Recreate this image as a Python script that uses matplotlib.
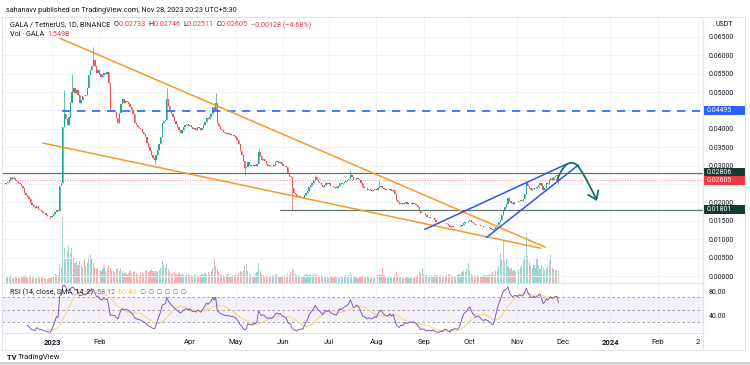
import numpy as np
import pandas as pd
import matplotlib
matplotlib.use('Agg')
import matplotlib.pyplot as plt
from matplotlib.path import Path
from matplotlib.patches import FancyArrowPatch, Rectangle
from matplotlib.transforms import blended_transform_factory
from matplotlib.ticker import FuncFormatter

W, H = 750, 365
plt.rcParams['font.family'] = ['Roboto', 'DejaVu Sans']

# --- data: GALA/USDT daily ---
first_day = '2022-12-02'
# closes in units of 0.0001 USDT
closes_e4 = [
    253, 256, 262, 268, 264, 266, 260, 257, 254, 250,
    246, 238, 226, 220, 216, 210, 198, 192, 188, 186,
    190, 182, 180, 178, 172, 170, 166, 163, 162, 160,
    164, 168, 174, 180, 178, 246, 252, 405, 440, 428,
    410, 432, 470, 500, 512, 498, 505, 492, 470, 478,
    490, 488, 492, 510, 545, 560, 572, 587, 570, 552,
    560, 548, 540, 546, 552, 548, 555, 525, 450, 452,
    448, 446, 430, 416, 442, 468, 480, 470, 476, 473,
    468, 460, 452, 440, 416, 410, 405, 402, 400, 392,
    385, 378, 362, 350, 340, 330, 322, 315, 328, 342,
    360, 378, 416, 420, 424, 480, 462, 450, 440, 432,
    420, 412, 405, 398, 390, 398, 405, 410, 412, 408,
    410, 405, 400, 402, 398, 405, 402, 397, 403, 410,
    418, 430, 426, 432, 440, 460, 452, 470, 416, 408,
    400, 397, 392, 390, 386, 388, 385, 384, 383, 380,
    376, 370, 358, 340, 330, 312, 293, 296, 310, 302,
    300, 298, 302, 300, 305, 337, 325, 315, 318, 312,
    305, 300, 302, 298, 300, 303, 310, 312, 308, 310,
    305, 300, 298, 296, 280, 272, 268, 240, 226, 222,
    215, 218, 214, 216, 212, 220, 226, 232, 242, 248,
    253, 260, 270, 262, 256, 253, 248, 242, 248, 253,
    250, 253, 246, 244, 242, 240, 240, 246, 253, 250,
    253, 256, 258, 260, 264, 274, 268, 260, 262, 266,
    264, 260, 252, 242, 240, 238, 234, 236, 234, 232,
    234, 236, 233, 238, 242, 244, 240, 236, 234, 233,
    234, 236, 232, 234, 224, 207, 200, 195, 198, 196,
    198, 200, 197, 198, 199, 197, 198, 196, 194, 188,
    180, 171, 172, 170, 165, 160, 161, 158, 157, 158,
    152, 147, 146, 144, 145, 143, 144, 145, 142, 138,
    133, 135, 133, 134, 133, 132, 133, 136, 140, 144,
    146, 147, 150, 152, 148, 144, 142, 139, 140, 139,
    137, 135, 133, 134, 133, 132, 130, 128, 125, 127,
    132, 139, 146, 152, 165, 180, 188, 195, 212, 203,
    198, 195, 200, 202, 200, 204, 207, 205, 210, 222,
    253, 245, 240, 234, 236, 240, 238, 242, 248, 253,
    245, 234, 240, 253, 250, 260, 266, 262, 268, 272,
    273.3, 260.5,
]
# volume in units of 0.1B GALA
volume_e8 = [
    6, 8, 9, 10, 7, 6, 8, 7, 6, 7,
    8, 9, 10, 8, 7, 9, 10, 8, 7, 6,
    7, 8, 6, 7, 8, 7, 6, 5, 6, 7,
    8, 9, 12, 10, 11, 25, 20, 86, 45, 32,
    41, 48, 39, 45, 32, 26, 28, 23, 28, 23,
    19, 32, 22, 26, 34, 37, 31, 26, 19, 18,
    20, 17, 15, 18, 22, 16, 19, 23, 20, 17,
    15, 14, 18, 20, 16, 19, 15, 13, 14, 12,
    13, 15, 12, 14, 16, 13, 12, 11, 13, 14,
    12, 15, 17, 14, 16, 18, 15, 13, 16, 14,
    17, 20, 28, 23, 19, 25, 18, 15, 13, 12,
    14, 12, 11, 13, 10, 12, 11, 9, 10, 12,
    11, 10, 9, 12, 10, 11, 9, 10, 12, 11,
    13, 12, 14, 11, 15, 20, 31, 22, 18, 14,
    12, 10, 11, 9, 10, 12, 9, 8, 10, 11,
    12, 11, 13, 15, 14, 17, 22, 25, 15, 12,
    10, 11, 9, 12, 14, 26, 16, 12, 10, 9,
    8, 10, 9, 8, 11, 9, 10, 12, 9, 8,
    9, 8, 10, 9, 12, 11, 14, 19, 15, 12,
    10, 9, 11, 8, 9, 10, 12, 11, 10, 12,
    11, 13, 12, 10, 9, 8, 10, 9, 8, 9,
    8, 7, 9, 8, 7, 8, 9, 7, 8, 9,
    8, 9, 10, 9, 11, 14, 10, 8, 9, 8,
    7, 8, 9, 10, 8, 7, 9, 8, 7, 8,
    7, 8, 9, 10, 12, 11, 19, 10, 8, 7,
    8, 7, 9, 8, 12, 14, 11, 9, 8, 7,
    6, 7, 8, 7, 6, 8, 7, 9, 8, 12,
    14, 13, 19, 12, 10, 11, 9, 8, 10, 9,
    10, 11, 9, 8, 10, 9, 8, 9, 10, 12,
    11, 10, 9, 8, 9, 10, 12, 11, 14, 16,
    14, 18, 26, 16, 12, 10, 9, 11, 10, 9,
    8, 9, 10, 11, 9, 10, 12, 13, 14, 12,
    15, 17, 22, 39, 30, 54, 28, 32, 22, 18,
    19, 15, 17, 14, 20, 18, 21, 24, 30, 35,
    65, 35, 27, 22, 19, 24, 20, 31, 22, 18,
    24, 19, 17, 20, 22, 29, 37, 20, 18, 16,
    17, 15.5,
]
first_open = 0.0250
# notable wicks (date, price)
wick_highs = [('2022-12-07', 0.0272), ('2023-01-09', 0.0505), ('2023-01-14', 0.0550),
              ('2023-01-28', 0.0622), ('2023-03-17', 0.0510), ('2023-04-18', 0.0497),
              ('2023-05-16', 0.0345), ('2023-06-22', 0.0275), ('2023-07-15', 0.0288),
              ('2023-08-03', 0.0260), ('2023-11-07', 0.0256), ('2023-11-28', 0.02746)]
wick_lows = [('2022-12-31', 0.0155), ('2023-03-09', 0.0305), ('2023-05-07', 0.0274),
             ('2023-06-07', 0.0180), ('2023-11-28', 0.02511)]

# drawings: (day offset from 2023-01-01, price)
orange_upper = [(5.2, 0.0646), (322.2, 0.00788)]
orange_lower = [(-5.9, 0.03614), (319.0, 0.00761)]
blue_upper = [(243.8, 0.01269), (336.4, 0.03043)]
blue_lower = [(284.1, 0.01052), (344.0, 0.03016)]
target_days = [6.5, 423.5]
target_level = 0.04495
resistance_level = 0.02806
support_start = 149.0
support_level = 0.01801
last_price = 0.02605
arrow_pts = [(330.1, 0.02609), (334.0, 0.03016), (338.6, 0.03207), (343.8, 0.02989),
             (348.4, 0.02717), (353.0, 0.02337), (356.2, 0.02038)]

month_ticks = ['2023-01-01', '2023-02-01', '2023-04-01', '2023-05-01', '2023-06-01',
               '2023-07-01', '2023-08-01', '2023-09-01', '2023-10-01', '2023-11-01',
               '2023-12-01', '2024-01-01', '2024-02-01', '2024-02-27']
month_labels = ['2023', 'Feb', 'Apr', 'May', 'Jun', 'Jul', 'Aug', 'Sep', 'Oct', 'Nov',
                'Dec', '2024', 'Feb', '2']
price_ticks = np.arange(0, 0.0651, 0.005)
hidden_ticks = [0.045, 0.025]  # covered by price labels

# --- derived ---
base = pd.Timestamp('2023-01-01')
def day_of(s):
    return (pd.Timestamp(s) - base).days

closes = np.array(closes_e4, dtype=float) / 1e4
volume = np.array(volume_e8, dtype=float)
days = np.arange(len(closes)) + day_of(first_day)
opens = np.r_[first_open, closes[:-1]]
highs = np.maximum(opens, closes)
lows = np.minimum(opens, closes)
for s, p in wick_highs:
    i = day_of(s) - days[0]
    highs[i] = max(highs[i], p)
for s, p in wick_lows:
    i = day_of(s) - days[0]
    lows[i] = min(lows[i], p)

n = 14
diff = np.diff(closes)
gain = np.clip(diff, 0, None)
loss = np.clip(-diff, 0, None)
rsi = np.full(len(closes), np.nan)
ag, al = gain[:n].mean(), loss[:n].mean()
rsi[n] = 100 - 100 / (1 + ag / al)
for i in range(n + 1, len(closes)):
    ag = (ag * (n - 1) + gain[i - 1]) / n
    al = (al * (n - 1) + loss[i - 1]) / n
    rsi[i] = 100 - 100 / (1 + ag / al) if al > 0 else 100
rsi_sma = pd.Series(rsi).rolling(14).mean().values

UP, DOWN = '#26a69a', '#ef5350'
TXT = '#131722'
GRID = '#f0f3fa'
EDGE = '#e0e3eb'

fig = plt.figure(figsize=(W / 100, H / 100), dpi=100)
fig.patch.set_facecolor('white')

def box(l, t, r, b):
    return [l / W, 1 - b / H, (r - l) / W, (b - t) / H]

XL = (-32.7, 425.5)
YL = (-0.0019, 0.0704)

ax_vol = fig.add_axes(box(2, 17, 703, 283))
ax = fig.add_axes(box(2, 17, 703, 283), sharex=ax_vol)
ax_rsi = fig.add_axes(box(2, 283, 703, 333), sharex=ax_vol)
ax.patch.set_alpha(0)

# volume
vcol = np.where(closes >= opens, UP, DOWN)
ax_vol.bar(days, volume, width=0.75, color=vcol, alpha=0.45, lw=0)
ax_vol.set_ylim(0, 346)
ax_vol.set_xlim(*XL)
ax_vol.axis('off')

# price
tick_days = [day_of(s) for s in month_ticks]
ax.set_xlim(*XL)
ax.set_ylim(*YL)
for td in tick_days:
    ax.axvline(td, color=GRID, lw=0.7, zorder=0)
for pt in price_ticks:
    ax.axhline(pt, color=GRID, lw=0.7, zorder=0)

ccol = np.where(closes >= opens, UP, DOWN)
ax.vlines(days, lows, highs, colors=ccol, lw=0.5, zorder=2)
body = closes - opens
body = np.where(np.abs(body) < 0.00006, 0.00006, body)
ax.bar(days, body, bottom=opens, width=0.85, color=ccol, lw=0, zorder=2)

ax.axhline(last_price, color=DOWN, lw=0.6, ls=(0, (1, 2)), alpha=0.8, zorder=1)
ax.axhline(resistance_level, color='#5a7a6f', lw=0.9, zorder=3)
ax.plot([support_start, XL[1]], [support_level] * 2, color='#5a7a6f', lw=0.9, zorder=3)
ax.plot(target_days, [target_level] * 2, color='#2962ff', lw=1.2, ls=(0, (5, 4)), zorder=3)

for ln in (orange_upper, orange_lower):
    xs, ys = zip(*ln)
    ax.plot(xs, ys, color='#f59a2a', lw=1.1, zorder=3)
for ln in (blue_upper, blue_lower):
    xs, ys = zip(*ln)
    ax.plot(xs, ys, color='#2f55e4', lw=1.1, zorder=3)

codes = [Path.MOVETO] + [Path.CURVE4] * 6
arr = FancyArrowPatch(path=Path(arrow_pts, codes), arrowstyle='->,head_length=0.55,head_width=0.4',
                      mutation_scale=10, color='#16706a', lw=1.3, zorder=4)
ax.add_patch(arr)

ax.yaxis.tick_right()
ax.set_yticks(price_ticks)
def price_fmt(v, _):
    if any(abs(v - h) < 1e-9 for h in hidden_ticks):
        return ''
    return f'{v:.5f}'
ax.yaxis.set_major_formatter(FuncFormatter(price_fmt))
ax.tick_params(axis='y', length=0, pad=4, labelsize=5, labelcolor=TXT)
ax.tick_params(axis='x', length=0, labelbottom=False)
for sp in ax.spines.values():
    sp.set_visible(False)
ax.spines['right'].set_visible(True)
ax.spines['right'].set_color(EDGE)
ax.spines['right'].set_linewidth(0.8)

# price labels on the axis
tr = blended_transform_factory(ax.transAxes, ax.transData)
ph = 9 / 3680
for price, label, bg in [(target_level, '0.04495', '#2962ff'),
                         (resistance_level, '0.02806', '#163a30'),
                         (last_price, '0.02605', '#f23645'),
                         (support_level, '0.01801', '#163a30')]:
    ax.add_patch(Rectangle((1.0, price - ph / 2), 42 / 701, ph, transform=tr,
                           color=bg, clip_on=False, zorder=6, lw=0))
    ax.text(1.0 + 4 / 701, price, label, transform=tr, color='white', fontsize=5,
            va='center', ha='left', zorder=7, clip_on=False)

# RSI
ax_rsi.set_xlim(*XL)
ax_rsi.set_ylim(11.7, 93.3)
ax_rsi.axhspan(30, 70, color='#7e57c2', alpha=0.08, lw=0)
for lv in (70, 50, 30):
    ax_rsi.axhline(lv, color='#9598a1', lw=0.6, ls=(0, (3, 3)))
for td in tick_days:
    ax_rsi.axvline(td, color=GRID, lw=0.7, zorder=0)
ax_rsi.plot(days, rsi_sma, color='#f3dc8a', lw=0.9)
ax_rsi.plot(days, rsi, color='#7e57c2', lw=0.7)
ax_rsi.yaxis.tick_right()
ax_rsi.set_yticks([40, 80])
ax_rsi.set_yticklabels(['40.00', '80.00'])
ax_rsi.tick_params(axis='y', length=0, pad=4, labelsize=5, labelcolor=TXT)
ax_rsi.set_xticks(tick_days)
ax_rsi.set_xticklabels(month_labels)
ax_rsi.tick_params(axis='x', length=0, pad=4, labelsize=5.5, labelcolor=TXT)
for t in ax_rsi.get_xticklabels():
    if t.get_text() in ('2023', '2024'):
        t.set_fontweight('bold')
for k, sp in ax_rsi.spines.items():
    sp.set_color(EDGE)
    sp.set_linewidth(0.8)
ax_rsi.spines['left'].set_visible(False)

# frame
fig.add_artist(Rectangle((2 / W, 1 - 350 / H), 743 / W, 333 / H, transform=fig.transFigure,
                         fill=False, edgecolor=EDGE, lw=0.8))
fig.add_artist(plt.Line2D([703 / W] * 2, [1 - 350 / H, 1 - 17 / H], transform=fig.transFigure,
                          color=EDGE, lw=0.8))
fig.add_artist(Rectangle((0, 0), 1, 3 / H, transform=fig.transFigure, color='#d4d4d6', lw=0))

renderer = fig.canvas.get_renderer()
def seq_text(x, y, parts, size, **kw):
    for s, c in parts:
        t = fig.text(x / W, 1 - y / H, s, color=c, fontsize=size, va='center', ha='left', **kw)
        x += t.get_window_extent(renderer).width
    return x

RED = '#f23645'
fig.text(6 / W, 1 - 10 / H, 'sahanavv published on TradingView.com, Nov 28, 2023 20:23 UTC+5:30',
         fontsize=5.2, color=TXT, va='center')
seq_text(10, 25, [('GALA / TetherUS, 1D, BINANCE  ', TXT), ('O', TXT), ('0.02733  ', RED),
                  ('H', TXT), ('0.02746  ', RED), ('L', TXT), ('0.02511  ', RED),
                  ('C', TXT), ('0.02605  ', RED), ('\u22120.00128 (\u22124.68%)', RED)], 5.2)
seq_text(10, 34, [('Vol \u00b7 GALA  ', TXT), ('1.549B', RED)], 5.2)
seq_text(10, 292, [('RSI (14, close, SMA, 14, 2)  ', TXT), ('58.12  ', '#7e57c2'),
                   ('60.40  ', '#e8c547'), ('\u2205 \u2205 \u2205 \u2205 \u2205 \u2205', '#787b86')], 5.2)
fig.text(724 / W, 1 - 24 / H, 'USDT', fontsize=5, color=TXT, ha='center', va='center')
seq_text(7, 357, [('TV ', TXT)], 5.5, fontweight='bold')
seq_text(18, 357, [('TradingView', TXT)], 5.5)

fig.savefig('out.png', dpi=100)
